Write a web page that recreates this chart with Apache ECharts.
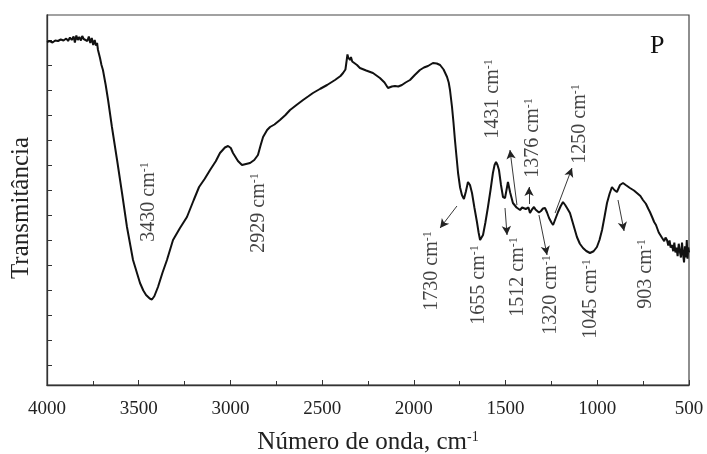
<!DOCTYPE html>
<html>
<head>
<meta charset="utf-8">
<script src="https://cdn.jsdelivr.net/npm/echarts@6/dist/echarts.min.js"></script>
<style>html,body{margin:0;padding:0;background:#fff}#c{width:707px;height:454px}</style>
</head>
<body>
<div id="c"></div>
<script>
// wavenumber (cm-1)
const wavenumber = [4000,3985,3970,3955,3940,3925,3910,3895,3885,3875,3865,3855,3848,3840,3832,3824,3815,3808,3800,3790,3780,3772,3764,3756,3748,3740,3733,3727,3722,3711,3703,3695,3680,3667,3646,3618,3591,3564,3531,3493,3475,3460,3440,3428,3415,3395,3370,3346,3313,3275,3237,3200,3171,3140,3111,3080,3057,3030,3013,2998,2986,2959,2937,2915,2893,2870,2850,2835,2822,2800,2784,2760,2730,2700,2675,2640,2604,2575,2550,2510,2473,2430,2400,2386,2373,2366,2362,2358,2354,2348,2343,2336,2326,2310,2294,2260,2223,2185,2160,2141,2120,2103,2085,2065,2045,2021,1995,1967,1945,1923,1896,1875,1857,1838,1819,1810,1803,1792,1784,1776,1767,1759,1748,1738,1727,1716,1705,1694,1683,1670,1656,1647,1639,1631,1623,1610,1596,1582,1569,1560,1552,1544,1536,1525,1514,1503,1495,1487,1475,1460,1440,1421,1410,1400,1390,1383,1375,1367,1356,1345,1337,1329,1318,1307,1296,1285,1274,1263,1250,1241,1228,1214,1200,1187,1175,1165,1149,1130,1111,1095,1078,1060,1040,1020,1002,988,974,960,947,933,920,907,893,876,860,845,835,822,800,784,765,751,735,722,713,700,690,680,674,665,655,648,642,635,628,620,613,606,600,593,586,580,574,568,562,556,550,544,538,532,527,522,517,512,508,504,500];
// transmittance (arbitrary units)
const transmittance = [12.92,12.96,12.9,12.98,12.96,13.02,12.98,13.06,12.96,13.1,13.0,13.14,12.9,13.18,13.0,13.12,12.98,13.16,13.04,13.1,12.96,13.14,12.88,13.08,12.8,13.0,12.78,12.88,12.6,12.28,12.0,11.8,11.2,10.6,9.52,8.2,6.88,5.52,4.2,3.28,2.98,2.8,2.66,2.62,2.75,3.12,3.7,4.2,5.0,5.48,5.92,6.6,7.12,7.45,7.8,8.15,8.48,8.7,8.76,8.68,8.48,8.16,8.0,8.04,8.08,8.2,8.4,8.8,9.12,9.4,9.52,9.62,9.8,10.0,10.2,10.4,10.6,10.75,10.88,11.05,11.2,11.4,11.56,11.68,11.82,12.2,12.42,12.3,12.38,12.2,12.32,12.14,12.1,12.0,11.88,11.78,11.68,11.48,11.3,11.08,11.14,11.16,11.14,11.2,11.3,11.4,11.6,11.8,11.9,11.96,12.08,12.06,12.0,11.82,11.52,11.3,11.0,10.32,9.7,9.0,8.3,7.68,7.1,6.8,6.64,6.95,7.32,7.2,6.88,6.3,5.72,5.3,5.0,5.06,5.2,5.7,6.32,7.0,7.68,8.0,8.12,8.0,7.8,7.2,6.72,6.68,7.0,7.32,6.9,6.48,6.3,6.2,6.3,6.36,6.24,6.2,6.3,6.08,6.22,6.32,6.22,6.28,6.1,6.16,6.26,6.28,6.1,5.88,5.7,5.6,5.85,6.12,6.35,6.52,6.4,6.28,6.08,5.6,5.12,4.85,4.68,4.56,4.48,4.55,4.72,5.0,5.4,5.95,6.48,6.85,7.12,7.0,6.92,7.2,7.28,7.2,7.22,7.08,6.98,6.88,6.76,6.6,6.45,6.25,6.12,5.9,5.72,5.6,5.52,5.3,5.25,5.1,5.16,4.95,5.1,5.0,4.78,4.98,4.7,4.8,4.55,4.9,4.5,4.7,4.35,4.85,4.55,4.3,4.9,4.4,4.1,4.75,4.3,5.0,4.25,4.7,4.5];
// x-axis ticks
const xTicks = [4000,3500,3000,2500,2000,1500,1000,500];
// band annotations: label text, label anchor [wn, T]
const bandLabels = ['3430','2929','1730','1655','1512','1320','1045','903','1431','1376','1250'];
const labelWn = [3444,2844,1901,1645,1432,1252,1034,734,1569,1350,1094];
const labelT = [6.52,6.08,3.76,3.2,3.52,2.8,2.64,3.64,10.64,9.08,9.64];
// arrows: [fromWn, fromT] -> [toWn, toT]
const arrowFrom = [[1765,6.36],[1503,6.28],[1318,6.0],[887,6.6],[1438,6.4],[1372,6.44],[1230,6.08]];
const arrowTo = [[1857,5.48],[1492,5.2],[1274,4.4],[854,5.36],[1476,8.6],[1372,7.12],[1138,7.88]];

const FONT = '"Liberation Serif","DejaVu Serif",serif';
const lineData = wavenumber.map((w, i) => [w, transmittance[i]]);
const labelData = bandLabels.map((t, i) => [labelWn[i], labelT[i], t]);
const arrows = arrowFrom.map((f, i) => [{coord: f}, {coord: arrowTo[i]}]);

const chart = echarts.init(document.getElementById('c'), null, {renderer: 'canvas'});
chart.setOption({
  animation: false,
  backgroundColor: '#fff',
  title: {text: 'P', left: 645, top: 28, textStyle: {fontFamily: FONT, fontSize: 26, fontWeight: 'normal', color: '#111'}},
  grid: {left: 47, right: 18, top: 15, bottom: 69, outerBoundsMode: 'none', containLabel: false,
    show: true, borderColor: '#444', borderWidth: 1.2, backgroundColor: 'transparent'},
  xAxis: {
    type: 'value', min: 500, max: 4000, inverse: true, interval: 500,
    axisLine: {show: true, onZero: false, lineStyle: {color: '#333', width: 1.3}},
    axisTick: {show: true, inside: true, length: 5, lineStyle: {color: '#333'}},
    minorTick: {show: true, splitNumber: 2, length: 4, lineStyle: {color: '#333'}},
    splitLine: {show: false}, minorSplitLine: {show: false},
    axisLabel: {fontFamily: FONT, fontSize: 19, color: '#222', margin: 15,
      formatter: v => String(v)},
    name: '{a|Número de onda, cm}{s|-1}', nameLocation: 'middle', nameGap: 45,
    nameTextStyle: {fontFamily: FONT, fontSize: 25, color: '#222',
      rich: {a: {fontFamily: FONT, fontSize: 25, color: '#222'}, s: {fontFamily: FONT, fontSize: 14, color: '#222', verticalAlign: 'top'}}}
  },
  yAxis: {
    type: 'value', min: -0.8, max: 14, interval: 1,
    axisLine: {show: true, onZero: false, lineStyle: {color: '#333', width: 1.3}},
    axisTick: {show: true, inside: true, length: 5, lineStyle: {color: '#333'},
      customValues: [0,1,2,3,4,5,6,7,8,9,10,11,12,13]},
    axisLabel: {show: false}, splitLine: {show: false},
    name: 'Transmitância', nameLocation: 'middle', nameGap: 13,
    nameTextStyle: {fontFamily: FONT, fontSize: 25, color: '#222', padding: [0, 16, 0, 0]}
  },
  series: [
    {
      type: 'line', data: lineData, showSymbol: false, symbol: 'none',
      lineStyle: {color: '#111', width: 2}, z: 3,
      markLine: {
        silent: true, symbol: ['none', 'arrow'], symbolSize: [7, 9], precision: 4,
        lineStyle: {color: '#222', width: 0.9, type: 'solid'},
        label: {show: false}, emphasis: {disabled: true},
        data: arrows
      }
    },
    {
      type: 'scatter', data: labelData, symbolSize: 1, itemStyle: {color: 'rgba(0,0,0,0)'},
      label: {
        show: true, position: 'inside', rotate: 90, align: 'center', verticalAlign: 'middle',
        formatter: p => '{a|' + p.data[2] + ' cm}{s|-1}',
        rich: {
          a: {fontFamily: FONT, fontSize: 20, color: '#111'},
          s: {fontFamily: FONT, fontSize: 12, color: '#111', verticalAlign: 'top'}
        }
      }
    }
  ]
});
</script>
</body>
</html>
